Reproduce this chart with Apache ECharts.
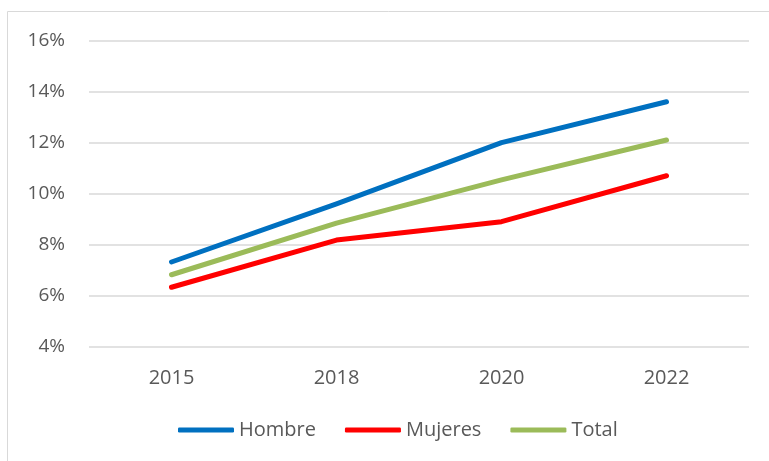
<!DOCTYPE html>
<html><head><meta charset="utf-8">
<script src="https://cdn.jsdelivr.net/npm/echarts@6/dist/echarts.min.js"></script>
<style>html,body{margin:0;padding:0;background:#fff}#c{width:769px;height:461px}</style>
</head><body><div id="c"></div>
<script>
const categories = ['2015', '2018', '2020', '2022'];
const hombre = [7.32, 9.6, 12.0, 13.6];
const mujeres = [6.33, 8.18, 8.9, 10.7];
const total = [6.82, 8.84, 10.54, 12.1];
const seriesNames = ['Hombre', 'Mujeres', 'Total'];
const colors = ['#0070C0', '#FF0000', '#9BBB59'];
const font = 'Open Sans, Liberation Sans, sans-serif';
const chart = echarts.init(document.getElementById('c'));
const mk = (name, data, color) => ({
  name, type: 'line', data, symbol: 'none', color,
  lineStyle: { width: 5, color, cap: 'round', join: 'round' }
});
chart.setOption({
  animation: false,
  graphic: [{ type: 'rect', shape: { x: 7.5, y: 11.5, width: 800, height: 500 },
    style: { fill: 'none', stroke: '#d9d9d9', lineWidth: 1 }, silent: true }],
  grid: { left: 89, right: 20, top: 40.5, bottom: 114.3 },
  legend: {
    data: seriesNames, top: 420, left: 178, padding: 0,
    icon: 'roundRect', itemWidth: 56, itemHeight: 5, itemGap: 29,
    textStyle: { fontFamily: font, fontSize: 20, color: '#595959' }
  },
  xAxis: {
    type: 'category', data: categories, boundaryGap: true,
    axisLine: { show: false }, axisTick: { show: false },
    axisLabel: { fontFamily: font, fontSize: 20, color: '#595959', margin: 22 }
  },
  yAxis: {
    type: 'value', min: 4, max: 16, interval: 2,
    axisLine: { show: false }, axisTick: { show: false },
    splitLine: { lineStyle: { color: '#d9d9d9', width: 1.5 } },
    axisLabel: { fontFamily: font, fontSize: 19, color: '#595959', margin: 24, formatter: v => v + '%' }
  },
  series: [mk('Hombre', hombre, colors[0]), mk('Mujeres', mujeres, colors[1]), mk('Total', total, colors[2])]
});
</script></body></html>
